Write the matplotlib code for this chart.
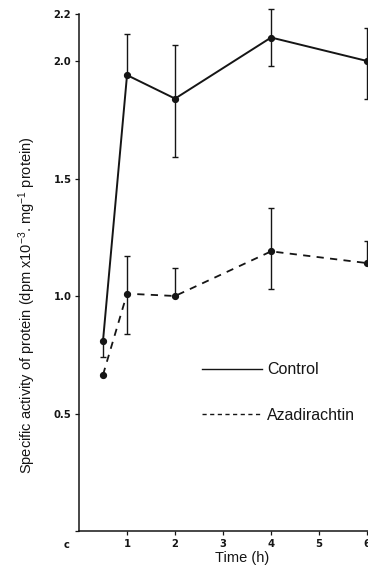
import matplotlib
matplotlib.use("Agg")
import matplotlib.pyplot as plt
from matplotlib.lines import Line2D

plt.rcParams['font.family'] = ['Liberation Sans', 'DejaVu Sans']
plt.rcParams['mathtext.fontset'] = 'custom'
plt.rcParams['mathtext.rm'] = 'Liberation Sans'
plt.rcParams['mathtext.default'] = 'regular'

# time after treatment (h)
time_h = [0.5, 1, 2, 4, 6]

# control series, mean and error bars (upper / lower)
control = [0.81, 1.94, 1.84, 2.10, 2.00]
control_up = [0.0, 0.175, 0.23, 0.12, 0.14]
control_lo = [0.07, 0.0, 0.25, 0.12, 0.16]

# azadirachtin-treated series
azad = [0.665, 1.01, 1.00, 1.19, 1.14]
azad_up = [0.0, 0.16, 0.12, 0.185, 0.095]
azad_lo = [0.0, 0.17, 0.0, 0.16, 0.0]

yticks = [0, 0.5, 1.0, 1.5, 2.0, 2.2]
ytick_labels = ['', '0.5', '1.0', '1.5', '2.0', '2.2']
xticks = [1, 2, 3, 4, 5, 6]
xtick_labels = ['1', '2', '3', '4', '5', '6']

ink = '#151515'

fig = plt.figure(figsize=(3.68, 5.79), dpi=100)
ax = fig.add_axes([0.2147, 0.0829, 0.796, 0.8929])

for vals, lo, up, lw in ((control, control_lo, control_up, 1.4),
                         (azad, azad_lo, azad_up, 1.3)):
    eb = ax.errorbar(time_h, vals, yerr=[lo, up], color=ink,
                     lw=lw, elinewidth=1.0, capsize=2.5, capthick=1.0,
                     marker='o', ms=4.2)
    for art in eb.lines[1] + eb.lines[2] + (eb.lines[0],):
        art.set_clip_on(False)
    for col in eb.lines[2]:
        col.set_clip_on(False)
eb.lines[0].set_dashes((4, 3.5))

ax.set_xlim(0, 6.1)
ax.set_ylim(0, 2.2)
ax.set_yticks(yticks)
ax.set_yticklabels(ytick_labels)
ax.set_xticks(xticks)
ax.set_xticklabels(xtick_labels)

for lab in ax.get_xticklabels() + ax.get_yticklabels():
    lab.set_family('DejaVu Sans')
    lab.set_fontweight('bold')
    lab.set_fontsize(7.2)
    lab.set_color(ink)

ax.tick_params(direction='out', length=3, width=0.9, colors=ink, pad=2.5)
ax.spines['top'].set_visible(False)
ax.spines['right'].set_visible(False)
for s in ('left', 'bottom'):
    ax.spines[s].set_linewidth(1.1)
    ax.spines[s].set_color(ink)

# origin label as printed
ax.text(-0.25, -0.027, 'c', transform=ax.get_xaxis_transform(),
        ha='center', va='center', fontsize=7.2, fontweight='bold',
        family='DejaVu Sans', color=ink)

ax.set_xlabel('Time (h)', fontsize=10.5, color=ink, va='center')
ax.xaxis.set_label_coords(0.556, -0.053)
ax.set_ylabel(r'Specific activity of protein (dpm x10$^{-3}$. mg$^{-1}$ protein)',
              fontsize=10.5, color=ink, va='center')
ax.yaxis.set_label_coords(-0.177, 0.437)

handles = [Line2D([], [], color=ink, lw=1.0),
           Line2D([], [], color=ink, lw=1.0, dashes=(3, 2.5))]
leg = ax.legend(handles, ['Control', 'Azadirachtin'], frameon=False,
                loc='center left', bbox_to_anchor=(0.548, 0.322),
                bbox_transform=fig.transFigure, fontsize=11.5,
                handlelength=3.8, handletextpad=0.3, labelspacing=1.9,
                borderpad=0, borderaxespad=0)
for t in leg.get_texts():
    t.set_color(ink)

fig.savefig('out.png', dpi=100)
